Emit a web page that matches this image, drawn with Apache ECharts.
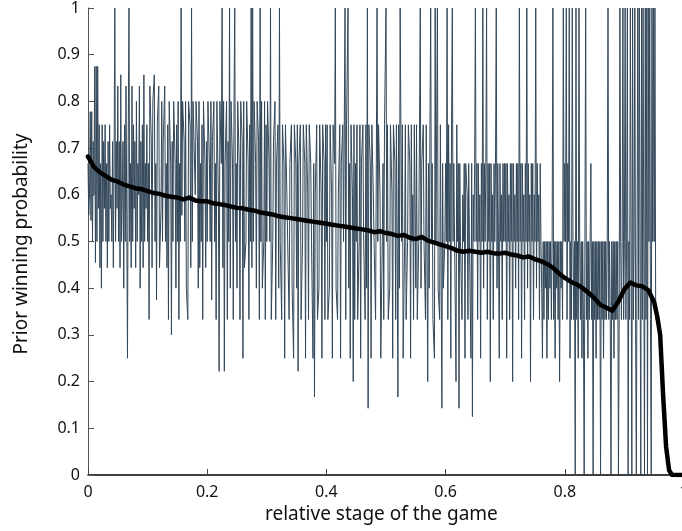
<!DOCTYPE html>
<html>
<head>
<meta charset="utf-8">
<script src="https://cdn.jsdelivr.net/npm/echarts@6/dist/echarts.min.js"></script>
<style>
html,body{margin:0;padding:0;background:#fff;overflow:hidden;width:682px;height:531px;}
#chart{width:700px;height:531px;}
</style>
</head>
<body>
<div id="chart"></div>
<script>
// x axis and y axis ticks
const xTicks = [0, 0.2, 0.4, 0.6, 0.8, 1];
const yTicks = [0, 0.1, 0.2, 0.3, 0.4, 0.5, 0.6, 0.7, 0.8, 0.9, 1];

// per-game-stage observed winning fraction (noisy), sampled every 0.00125 of the game
const noisyStep = 0.00125;
const noisyValues = [
  // 0.00 - 0.04875
  0.667,0.556,0.6,0.778,0.545,0.778,0.5,0.714,0.6,0.875,0.455,0.875,0.5,0.875,0.571,0.75,0.444,0.667,0.4,0.75,
  0.5,0.714,0.571,0.75,0.5,0.667,0.444,0.714,0.5,0.75,0.571,0.6,0.5,0.714,0.444,0.667,1,0.5,0.714,0.571,
  // 0.05 - 0.09875
  0.833,0.5,0.714,0.444,0.857,0.5,0.6,0.714,0.4,0.75,0.5,0.833,0.556,0.25,0.714,1,0.5,0.667,0.444,0.833,
  0.5,0.75,0.571,0.714,0.444,0.8,0.5,0.667,0.6,0.833,0.4,0.714,0.5,0.75,0.444,0.857,0.5,0.667,0.571,0.75,
  // 0.10 - 0.14875
  0.5,0.667,0.333,0.833,0.833,0.714,0.444,0.8,0.8,0.857,0.5,0.667,0.375,0.75,0.75,0.833,0.444,0.444,0.571,0.8,
  0.5,0.714,0.714,0.833,0.5,0.667,0.444,0.75,0.333,0.8,0.8,0.667,0.3,0.714,0.5,0.8,0.8,0.667,0.4,0.75,
  // 0.15 - 0.19875
  0.5,0.8,0.333,0.667,0.5,1,0.556,0.8,0.8,0.714,0.5,0.8,0.4,0.4,0.333,0.8,0.8,0.75,0.444,1,
  0.5,0.8,0.8,0.667,0.6,0.8,0.8,0.714,0.4,0.8,0.444,0.667,0.5,0.75,0.333,0.8,0.8,0.667,0.444,0.714,
  // 0.20 - 0.24875
  0.5,0.8,0.8,0.667,0.5,0.8,0.375,0.714,0.714,0.8,0.5,0.667,0.333,0.8,0.8,0.6,0.222,0.8,0.8,0.667,
  1,0.444,0.8,0.222,0.667,0.667,0.8,0.333,0.714,0.5,1,0.4,0.8,0.8,0.667,0.333,0.8,1,0.5,0.667,
  // 0.25 - 0.29875
  0.4,0.8,0.8,0.667,0.333,0.8,0.8,0.714,0.25,0.8,0.444,0.444,0.5,0.8,0.8,0.667,0.333,0.75,0.5,1,
  0.444,1,0.5,0.8,0.8,0.667,0.4,0.8,0.8,0.714,0.333,1,0.5,0.8,0.4,0.4,0.5,0.8,0.333,0.75,
  // 0.30 - 0.34875
  0.5,0.8,0.8,0.667,0.5,1,0.333,0.333,0.5,0.714,0.714,0.8,0.333,0.667,0.667,0.75,0.4,1,0.5,0.5,
  0.333,0.75,0.75,0.667,0.25,0.75,0.75,0.6,0.5,0.5,0.333,0.667,0.667,0.75,0.4,0.4,0.25,0.75,0.75,0.667,
  // 0.35 - 0.39875
  0.4,0.75,0.222,0.667,0.667,0.75,0.333,0.333,0.5,0.75,0.75,0.667,0.25,0.75,0.75,0.6,0.333,0.75,0.75,0.667,
  0.5,0.5,0.25,0.667,0.167,0.6,0.6,0.75,0.333,0.333,0.4,0.75,0.75,0.6,0.25,0.75,0.75,0.667,0.333,0.75,
  // 0.40 - 0.44875
  0.5,0.75,0.333,0.333,0.4,0.75,0.75,0.6,0.25,0.75,0.75,0.667,1,0.4,0.4,0.333,0.6,0.6,0.75,0.25,
  0.667,0.667,0.75,0.5,0.5,1,0.333,0.75,0.75,1,0.4,0.667,0.25,0.75,0.75,0.6,0.2,0.75,0.333,0.667,
  // 0.45 - 0.49875
  0.5,0.75,0.333,0.333,0.5,0.75,0.25,0.667,0.667,0.75,0.5,0.5,0.333,0.75,0.4,1,0.143,0.75,0.75,0.667,
  0.25,0.75,0.75,0.6,0.5,0.5,0.333,0.667,1,0.5,0.75,0.75,0.6,0.25,0.25,0.5,0.667,0.333,0.75,0.75,
  // 0.50 - 0.54875
  1,0.5,0.75,0.333,0.333,0.4,0.75,0.75,0.6,0.25,0.75,0.75,0.667,0.333,0.75,0.5,0.167,0.75,0.4,1,
  1,0.5,0.75,0.25,0.25,0.5,0.75,0.333,0.333,0.5,0.75,0.75,0.667,0.25,0.75,0.5,0.6,0.333,0.75,0.75,
  // 0.55 - 0.59875
  0.4,0.75,0.333,0.333,0.5,0.75,1,0.4,0.667,0.667,0.75,0.5,0.5,0.333,0.75,0.75,0.2,0.667,0.4,0.75,
  1,0.5,0.667,0.333,0.333,0.25,1,0.5,0.75,1,0.4,0.4,0.333,0.75,0.75,0.143,0.667,0.4,0.4,0.5,
  // 0.60 - 0.64875
  0.667,0.5,1,0.333,0.75,0.5,0.667,0.25,0.75,1,0.5,0.667,0.667,0.667,0.2,0.75,0.5,0.667,0.143,0.667,
  0.5,0.5,0.333,0.6,0.5,0.667,0.25,0.667,0.667,0.6,0.333,0.667,0.5,0.5,0.25,0.667,0.125,0.6,0.5,0.667,
  // 0.65 - 0.69875
  1,0.5,0.667,0.333,0.667,0.5,0.6,0.25,0.667,0.5,1,0.4,0.667,0.5,0.667,1,0.333,0.667,0.5,0.667,
  0.2,0.667,0.5,0.6,0.333,0.667,0.5,0.667,1,0.4,0.667,0.5,0.25,0.667,0.5,0.6,0.333,0.667,0.5,0.667,
  // 0.70 - 0.74875
  0.5,0.667,0.25,0.667,0.5,0.6,0.333,0.667,0.5,0.667,0.2,0.667,0.5,0.6,0.4,0.667,0.5,0.667,0.333,1,
  0.5,0.667,0.25,0.667,0.5,0.6,0.333,0.667,0.5,1,0.4,0.667,0.5,0.6,0.2,0.667,0.5,0.667,0.333,0.6,
  // 0.75 - 0.79875
  0.5,1,0.4,0.667,0.5,0.6,0.333,0.667,0.5,0.4,0.25,0.5,0.333,0.5,0.4,0.5,0.25,0.5,0.333,0.5,
  0.4,0.5,0.333,0.5,1,0.333,0.5,0.25,0.5,0.4,0.5,0.333,0.5,0.2,0.5,0.4,0.5,0.333,1,0.5,
  // 0.80 - 0.84875
  0.667,0.5,1,0.333,0.667,0.5,1,0.25,0.5,0.333,1,0.5,0.333,0.5,0,1,0.333,0.5,0.25,1,
  0.5,0.333,0.5,0.25,0.5,0.333,0,0.5,1,0.333,0.5,0.25,0.5,0.333,0.5,0.667,0.333,0.5,0,0.5,
  // 0.85 - 0.89875
  0.333,0.5,0.25,0.5,0.333,0.5,0.333,0.5,0,0.5,0.333,0.5,0.25,0.5,0.333,0.5,0.333,0.5,1,0.333,
  0.5,0.333,0,0.5,0.333,0.5,0.25,0.5,0.333,0.5,0.333,0.5,0,0.333,1,0.5,0.333,0.5,1,0.333,
  // 0.90 - 0.94875
  0.5,1,0.333,0.5,1,0,0.5,0.333,1,0.5,0,1,0.333,0.5,1,0.333,0,0.5,1,0.333,
  1,0.5,0,1,0.333,1,0.5,0,1,0.333,1,0,1,0.5,1,0.333,0,1,0.5,1,
  // 0.95 - 0.9525
  0.5,1,0.333
];

// smoothed prior winning probability
const smoothX = [0,0.01,0.02,0.03,0.04,0.05,0.06,0.07,0.08,0.09,
  0.10,0.11,0.12,0.13,0.14,0.15,0.16,0.17,0.18,0.19,
  0.20,0.21,0.22,0.23,0.24,0.25,0.26,0.27,0.28,0.29,
  0.30,0.31,0.32,0.33,0.34,0.35,0.36,0.37,0.38,0.39,
  0.40,0.41,0.42,0.43,0.44,0.45,0.46,0.47,0.48,0.49,
  0.50,0.51,0.52,0.53,0.54,0.55,0.56,0.57,0.58,0.59,
  0.60,0.61,0.62,0.63,0.64,0.65,0.66,0.67,0.68,0.69,
  0.70,0.71,0.72,0.73,0.74,0.75,0.76,0.77,0.78,0.79,
  0.80,0.81,0.82,0.83,0.84,0.85,0.86,0.87,0.88,0.89,
  0.90,0.91,0.92,0.93,0.94,0.95,0.955,0.96,0.965,0.97,0.975,0.98,1.0];
const smoothY = [0.682,0.660,0.648,0.640,0.632,0.628,0.622,0.618,0.614,0.612,
  0.608,0.604,0.602,0.598,0.596,0.594,0.590,0.594,0.588,0.586,
  0.586,0.582,0.580,0.578,0.575,0.572,0.571,0.568,0.566,0.562,
  0.560,0.558,0.554,0.552,0.550,0.548,0.546,0.544,0.542,0.540,
  0.538,0.536,0.534,0.532,0.530,0.528,0.526,0.524,0.520,0.522,
  0.518,0.516,0.512,0.514,0.508,0.505,0.510,0.502,0.498,0.494,
  0.490,0.486,0.480,0.478,0.480,0.478,0.476,0.478,0.475,0.474,
  0.476,0.472,0.470,0.466,0.468,0.462,0.458,0.452,0.444,0.432,
  0.422,0.414,0.408,0.400,0.390,0.378,0.364,0.358,0.352,0.372,
  0.398,0.412,0.406,0.404,0.396,0.370,0.340,0.300,0.170,0.060,0.010,0,0];

const xTitle = 'relative stage of the game';
const yTitle = 'Prior winning probability';

const noisyData = noisyValues.map((v, i) => [+(i * noisyStep).toFixed(5), v]);
const smoothData = smoothX.map((x, i) => [x, smoothY[i]]);

const chart = echarts.init(document.getElementById('chart'), null, {renderer: 'canvas'});
const font = '"Noto Sans", "DejaVu Sans", sans-serif';
chart.setOption({
  animation: false,
  backgroundColor: '#fff',
  grid: {left: 88, top: 5.7, right: 16, bottom: 56, containLabel: false},
  xAxis: {
    type: 'value', min: xTicks[0], max: xTicks[xTicks.length - 1], interval: 0.2,
    axisLine: {show: true, onZero: false, lineStyle: {color: '#000', width: 1.5}},
    axisTick: {show: true, inside: true, length: 6, lineStyle: {color: '#444'}},
    axisLabel: {color: '#111', fontSize: 16, fontFamily: font, margin: 9, showMaxLabel: true},
    splitLine: {show: false}
  },
  yAxis: {
    type: 'value', min: yTicks[0], max: yTicks[yTicks.length - 1], interval: 0.1,
    axisLine: {show: true, lineStyle: {color: '#555', width: 1}},
    axisTick: {show: true, inside: true, length: 6, lineStyle: {color: '#555'}},
    axisLabel: {color: '#111', fontSize: 16, fontFamily: font, margin: 8},
    splitLine: {show: false}
  },
  graphic: [
    {type: 'text', left: 381 - 116, top: 505, style: {text: xTitle, fontSize: 19, fontFamily: font, fill: '#111'}},
    {type: 'text', x: 22, y: 244, rotation: Math.PI / 2, style: {text: yTitle, fontSize: 19, fontFamily: font, fill: '#111', align: 'center', verticalAlign: 'middle'}}
  ],
  series: [
    {type: 'line', data: noisyData, showSymbol: false, symbol: 'none', lineStyle: {color: '#33485a', width: 1}, z: 2},
    {type: 'line', data: smoothData, showSymbol: false, symbol: 'none', lineStyle: {color: '#000', width: 4.5, join: 'round', cap: 'round'}, z: 3}
  ]
});
</script>
</body>
</html>
